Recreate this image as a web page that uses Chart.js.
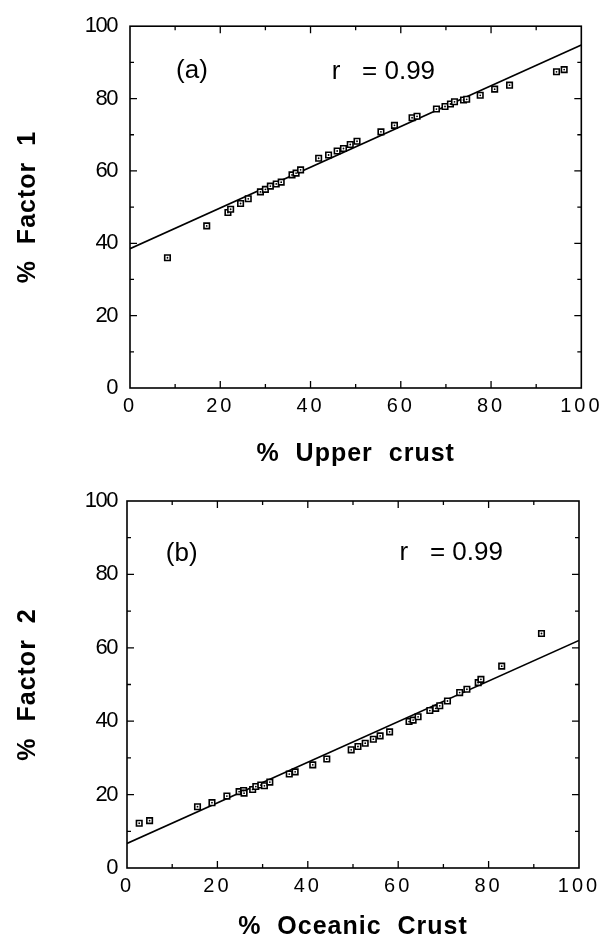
<!DOCTYPE html>
<html><head><meta charset="utf-8">
<script src="https://cdn.jsdelivr.net/npm/chart.js@4.4.0/dist/chart.umd.min.js"></script>
<style>
html,body{margin:0;padding:0;background:#fff;width:604px;height:947px;overflow:hidden}
.box{position:absolute;left:0;width:604px}
</style></head><body>
<div class="box" style="top:0;height:474px"><canvas id="ca" width="604" height="474"></canvas></div>
<div class="box" style="top:474px;height:473px"><canvas id="cb" width="604" height="473"></canvas></div>
<script>
// ---- data ----
const upperCrust = [8.3,17.0,21.7,22.3,24.5,26.2,28.9,30.0,31.1,32.4,33.5,35.9,36.8,37.8,41.8,44.0,45.9,47.3,48.8,50.3,55.6,58.6,62.5,63.6,67.9,69.8,71.0,71.9,73.9,74.6,77.6,80.8,84.1,94.5,96.2];
const factor1    = [36.0,44.8,48.5,49.4,51.0,52.3,54.2,54.9,55.8,56.4,56.9,58.9,59.4,60.3,63.5,64.4,65.5,66.2,67.3,68.2,70.8,72.6,74.7,75.1,77.1,77.8,78.5,79.1,79.6,79.8,80.9,82.6,83.7,87.4,88.0];
const oceanicCrust = [2.7,5.0,15.6,18.8,22.1,24.8,25.8,25.9,27.8,28.5,29.6,30.4,31.6,35.9,37.2,41.1,44.2,49.6,51.1,52.7,54.5,56.0,58.1,62.4,63.3,64.4,67.0,68.3,69.2,70.9,73.6,75.2,77.7,78.3,82.9,91.7];
const factor2      = [12.2,12.9,16.7,17.8,19.6,20.8,21.1,20.4,21.4,22.2,22.6,22.4,23.4,25.6,26.2,28.1,29.7,32.2,33.1,34.0,35.1,36.0,37.1,39.9,40.3,41.2,42.9,43.5,44.2,45.5,47.8,48.7,50.5,51.4,55.0,63.9];
const fitAX = [0, 100];
const fitAY = [38.5, 94.8];
const fitBX = [0, 100];
const fitBY = [6.7, 62.0];
const axisTicks = [0, 20, 40, 60, 80, 100];
const panelLabels = ['(a)', '(b)'];
const rLabels = ['r   = 0.99', 'r   = 0.99'];
const xTitles = ['% Upper crust', '% Oceanic Crust'];
const yTitles = ['% Factor 1', '% Factor 2'];

const FAM = '"Liberation Sans", Arial, Helvetica, sans-serif';

const spacingPlugin = {
  id: 'spacing',
  beforeDraw(chart, args, opts) {
    for (const id of Object.keys(chart.scales)) {
      const s = chart.scales[id];
      if (s._spWrapped) continue;
      s._spWrapped = true;
      const cfg = opts[id] || {};
      const oL = s.drawLabels, oT = s.drawTitle;
      s.drawLabels = function (ca) {
        const c = this.ctx, p = c.letterSpacing;
        c.letterSpacing = cfg.ticks || '0px';
        oL.call(this, ca);
        c.letterSpacing = p;
      };
      s.drawTitle = function () {
        const c = this.ctx, p1 = c.letterSpacing, p2 = c.wordSpacing;
        c.letterSpacing = cfg.title || '0px';
        c.wordSpacing = cfg.word || '0px';
        oT.call(this);
        c.letterSpacing = p1; c.wordSpacing = p2;
      };
    }
  }
};

const framePlugin = {
  id: 'frame',
  beforeDatasetsDraw(chart, args, o) {
    const ctx = chart.ctx, {left, right, top, bottom} = chart.chartArea;
    const xs = chart.scales.x, ys = chart.scales.y;
    ctx.save();
    ctx.strokeStyle = '#000';
    ctx.lineWidth = o.lineWidth;
    ctx.strokeRect(left, top, right - left, bottom - top);
    ctx.lineWidth = 1.3;
    ctx.beginPath();
    for (let v = 10; v < 100; v += 10) {
      const len = v % 20 === 0 ? o.major : o.minor;
      const px = xs.getPixelForValue(v), py = ys.getPixelForValue(v);
      ctx.moveTo(px, bottom); ctx.lineTo(px, bottom - len);
      ctx.moveTo(px, top); ctx.lineTo(px, top + len);
      ctx.moveTo(left, py); ctx.lineTo(left + len, py);
      ctx.moveTo(right, py); ctx.lineTo(right - len, py);
    }
    ctx.stroke();
    ctx.restore();
  }
};

const notePlugin = {
  id: 'notes',
  afterDatasetsDraw(chart, args, o) {
    const ctx = chart.ctx, xs = chart.scales.x, ys = chart.scales.y;
    ctx.save();
    ctx.font = o.font;
    ctx.fillStyle = '#000';
    ctx.textAlign = 'left';
    ctx.textBaseline = 'middle';
    for (const n of o.items) ctx.fillText(n.text, xs.getPixelForValue(n.x), ys.getPixelForValue(n.y));
    ctx.restore();
  }
};

function makeChart(id, xData, yData, fitX, fitY, idx, cfg) {
  const pts = xData.map((x, i) => ({x: x, y: yData[i]}));
  const fit = fitX.map((x, i) => ({x: x, y: fitY[i]}));
  return new Chart(document.getElementById(id), {
    type: 'scatter',
    data: {
      datasets: [
        {data: fit, showLine: true, borderColor: '#000', borderWidth: 1.6, pointRadius: 0, fill: false, order: 3},
        {data: pts, pointStyle: 'rect', pointRadius: 3.9, borderWidth: 1.6, borderColor: '#000', backgroundColor: '#fff', order: 2},
        {data: pts, pointStyle: 'circle', pointRadius: 0.9, borderWidth: 0, backgroundColor: '#000', order: 1}
      ]
    },
    options: {
      responsive: false, animation: false, devicePixelRatio: 1,
      layout: {padding: {top: cfg.top, right: cfg.right, left: 0, bottom: 0}},
      plugins: {
        legend: {display: false}, tooltip: {enabled: false},
        frame: {lineWidth: 1.6, major: 7, minor: 4},
        notes: {font: '26px ' + FAM, items: [
          {text: panelLabels[idx], x: cfg.px, y: cfg.py},
          {text: rLabels[idx], x: cfg.rx, y: cfg.ry}
        ]},
        spacing: {x: {ticks: '3px', title: '1px', word: '8px'}, y: {ticks: '-1.5px', title: '1px', word: '8px'}}
      },
      scales: {
        x: {
          type: 'linear', min: 0, max: 100,
          afterBuildTicks: s => { s.ticks = axisTicks.map(v => ({value: v})); },
          afterFit: s => { s.height = cfg.xh; },
          grid: {display: false, drawTicks: false}, border: {display: false},
          ticks: {color: '#000', font: {family: FAM, size: 20}, padding: 6, maxRotation: 0, autoSkip: false},
          title: {display: true, text: xTitles[idx], color: '#000', font: {family: FAM, size: 25, weight: 'bold'}, padding: {top: 0, bottom: 5}}
        },
        y: {
          type: 'linear', min: 0, max: 100,
          afterBuildTicks: s => { s.ticks = axisTicks.map(v => ({value: v})); },
          afterFit: s => { s.width = cfg.yw; },
          grid: {display: false, drawTicks: false}, border: {display: false},
          ticks: {color: '#000', font: {family: FAM, size: 22}, padding: cfg.ypad, autoSkip: false},
          title: {display: true, text: yTitles[idx], color: '#000', font: {family: FAM, size: 25, weight: 'bold'}, padding: {top: 13, bottom: 0}}
        }
      }
    },
    plugins: [spacingPlugin, framePlugin, notePlugin]
  });
}

makeChart('ca', upperCrust, factor1, fitAX, fitAY, 0,
  {top: 21, right: 21, xh: 86, yw: 130, ypad: 13, px: 10.2, py: 87.7, rx: 44.7, ry: 87.5});
makeChart('cb', oceanicCrust, factor2, fitBX, fitBY, 1,
  {top: 27, right: 25, xh: 79, yw: 127, ypad: 10, px: 8.6, py: 85.6, rx: 60.3, ry: 86.0});
</script>
</body></html>
